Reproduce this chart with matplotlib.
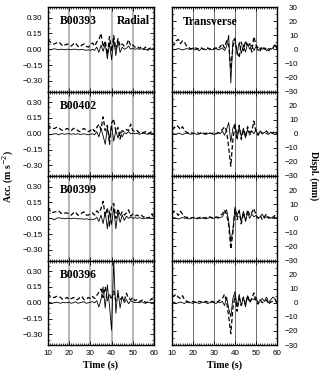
import numpy as np
import matplotlib
matplotlib.use('Agg')
import matplotlib.pyplot as plt
from matplotlib.ticker import MultipleLocator

# time axis (s)
t = list(range(10, 61))

stations = ['B00393', 'B00402', 'B00399', 'B00396']

# radial component (m s^-2)
rad_solid = [
    [0.0,-0.005,0.0,0.005,0.0,-0.005,0.0,0.0,-0.005,0.0, 0.0,-0.005,0.0,0.0,-0.005,-0.005,0.0,-0.005,-0.01,-0.005,
     -0.01,0.0,-0.01,0.02,-0.03,0.04,-0.02,0.05,-0.09,0.06, -0.1,0.09,-0.06,0.08,-0.03,0.02,0.0,0.01,0.03,0.0,
     0.01,0.0,0.005,0.0,0.005,0.0,-0.005,0.0,0.005,0.0, 0.0],
    [0.0,-0.01,-0.005,0.0,0.0,-0.01,0.0,0.0,-0.005,0.0, 0.0,-0.005,0.0,-0.005,0.0,-0.005,-0.005,0.0,-0.005,-0.01,
     -0.005,0.0,-0.01,0.02,-0.03,0.05,-0.02,-0.1,0.06,-0.05, 0.08,-0.07,0.03,-0.04,0.02,-0.03,0.01,0.0,0.02,0.0,
     0.005,0.0,0.005,-0.005,0.0,0.005,0.0,-0.005,0.0,0.005, 0.0],
    [0.0,0.0,-0.005,-0.015,0.0,0.005,0.0,0.0,-0.005,0.0, 0.0,-0.005,0.0,0.0,-0.005,-0.005,-0.005,-0.01,-0.005,-0.01,
     -0.01,-0.01,-0.01,0.01,-0.03,0.03,-0.05,0.06,-0.1,0.07, -0.06,0.1,-0.1,0.06,-0.04,0.03,-0.02,0.02,0.0,0.01,
     0.0,0.005,0.0,0.005,0.0,-0.005,0.0,0.005,0.0,0.0, 0.0],
    [0.0,0.005,-0.005,0.0,0.005,0.0,-0.005,0.005,0.0,0.0, 0.005,-0.005,0.0,0.01,-0.005,0.0,0.005,0.01,-0.005,0.0,
     0.005,0.01,0.0,0.02,-0.04,0.03,0.15,-0.05,0.17,-0.03, -0.26,0.4,-0.1,0.12,-0.05,0.06,0.0,0.03,-0.01,0.02,
     0.01,0.0,0.005,0.0,0.01,0.0,-0.005,0.005,0.0,0.005, 0.0],
]
rad_dash = [
    [0.09,0.07,0.05,0.05,0.06,0.07,0.05,0.03,0.04,0.05, 0.04,0.03,0.05,0.06,0.03,0.02,0.04,0.05,0.03,0.02,
     0.04,0.06,0.03,0.07,0.09,0.15,0.02,0.08,-0.05,0.12, -0.02,0.13,0.0,0.10,0.03,0.05,0.03,0.04,0.09,0.03,
     0.04,0.02,0.03,0.01,0.02,0.0,0.02,-0.01,0.01,0.02, 0.0],
    [0.09,0.06,0.05,0.05,0.06,0.06,0.04,0.03,0.04,0.05, 0.04,0.03,0.05,0.05,0.03,0.02,0.04,0.05,0.03,0.02,
     0.03,0.05,0.02,0.06,0.09,0.04,0.16,0.03,0.08,-0.1, 0.1,0.14,0.02,0.06,-0.05,0.03,0.02,0.04,0.03,0.09,
     0.03,0.02,0.03,0.01,0.02,0.01,0.02,0.0,0.01,0.02, 0.0],
    [0.1,0.07,0.05,0.06,0.06,0.07,0.05,0.04,0.05,0.05, 0.04,0.03,0.05,0.06,0.03,0.03,0.05,0.06,0.03,0.03,
     0.04,0.05,0.03,0.07,0.05,0.09,0.16,0.02,0.1,-0.08, 0.12,0.14,0.0,0.09,0.02,0.06,0.03,0.05,0.08,0.02,
     0.04,0.02,0.03,0.02,0.03,0.01,0.02,0.0,0.01,0.04, 0.01],
    [0.09,0.06,0.05,0.05,0.06,0.06,0.05,0.03,0.04,0.05, 0.03,0.04,0.05,0.03,0.03,0.05,0.06,0.03,0.03,0.05,
     0.04,0.06,0.04,0.07,0.1,0.13,0.05,0.15,0.02,0.08, 0.03,0.11,0.02,0.07,0.03,0.05,0.02,0.09,0.04,0.03,
     0.05,0.02,0.03,0.01,0.02,0.03,0.0,0.01,0.02,0.04, 0.0],
]

# transverse component (mm)
tra_solid = [
    [0,-0.5,0,0.5,0,-0.5,0,0.5,0,0, 1,-0.5,0,-1,0.5,0,-0.5,0.5,0,-0.5,
     0,0.5,-0.5,0,1,-1,2,10,-24,6, 8,-4,5,-3,3,-2,4,0,3,-1,
     2,-1,1,0,1,-1,0.5,0,1,3, 0],
    [0,0,-0.5,0.5,0,-0.5,0,0.5,0,-0.5, 0.5,0,-0.5,0,0.5,0,-0.5,0,0.5,0,
     -0.5,0,1,0,2,-1,3,8,-6,4, 7,-4,5,-2,4,-3,3,-1,2,0,
     3,-1,2,0,1,0,-0.5,1,0,1, 0],
    [0,0.5,0,-0.5,0,0.5,0,0,-0.5,0, 0.5,0,-0.5,0,0,0.5,-0.5,0,0.5,0,
     0,0.5,0,0.5,1,4,6,-2,-17,-8, 8,2,6,-3,5,-2,4,0,3,1,
     2,0,1,3,0,1,0.5,0,1,0.5, 0],
    [0,0.5,-0.5,0,0.5,0,-0.5,0.5,0,0, -0.5,0.5,0,-0.5,0,0.5,0,-0.5,0,0.5,
     0,-0.5,0.5,0,1,-2,4,-4,-10,3, 8,-3,6,-2,4,-3,5,1,3,2,
     4,0,2,3,1,4,0,2,4,3, 0],
]
tra_dash = [
    [4,3,6,7,4,6,5,2,1,0.5, 0,1,0.5,0,1,0,0.5,1,0,1,
     0.5,1,0,2,4,1,6,3,-14,2, 7,-2,-6,5,-1,6,2,4,-2,9,
     3,1,-1,2,0,1,-1,0.5,0,4, 1],
    [3,4,6,5,3,5,2,1,0.5,1, 0,0.5,1,0,1,0.5,0,1,0.5,0,
     1,0,0.5,2,3,5,2,-10,-23,-4, 6,-3,6,-4,3,-2,5,1,2,9,
     1,-1,2,0,1,2,0,1,0.5,2, 0],
    [3,5,4,2,5,3,1,0.5,1,0, 0.5,1,0,0.5,1,0,0.5,0,1,0.5,
     0,1,0.5,2,3,6,3,-5,-22,-10, 6,-1,5,-4,4,-2,6,2,4,7,
     2,0,2,-1,1,3,0,1,0,2, 0],
    [4,5,6,4,3,5,2,1,0.5,0, 1,0.5,0,1,0.5,0,1,0.5,0,1,
     0.5,0,1,2,3,6,1,-10,-22,-4, 5,-6,3,-2,4,-1,5,0,3,7,
     1,-1,2,0,1,2,-1,0.5,1,2, 0],
]

acc_ticks = [-0.30, -0.15, 0.00, 0.15, 0.30]
dsp_ticks = [-30, -20, -10, 0, 10, 20, 30]

serif = 'Liberation Serif'
plt.rcParams['font.family'] = 'Liberation Sans'
plt.rcParams['font.size'] = 5.8

fig = plt.figure(figsize=(3.2, 3.77), dpi=100)
W, H = 320.0, 377.0
top, ph = 7.0, 84.5

for i in range(4):
    bottom = 1 - (top + (i + 1) * ph) / H
    axL = fig.add_axes([48 / W, bottom, 106 / W, ph / H])
    axR = fig.add_axes([172 / W, bottom, 105 / W, ph / H])

    # radial
    axL.plot(t, rad_solid[i], color='black', lw=0.6)
    axL.plot(t, rad_dash[i], color='black', lw=0.9, dashes=(3.5, 2))
    axL.set_ylim(-0.4, 0.4)
    axL.set_yticks(acc_ticks)
    axL.set_yticklabels(['%.2f' % v if v >= 0 else '\u2212%.2f' % -v for v in acc_ticks])
    axL.yaxis.set_minor_locator(MultipleLocator(0.05))
    axL.xaxis.grid(True, color='#b8b8b8', lw=1.5)

    # transverse
    axR.plot(t, tra_solid[i], color='black', lw=0.6)
    axR.plot(t, tra_dash[i], color='black', lw=0.9, dashes=(3.5, 2))
    axR.set_ylim(-30, 30)
    axR.set_yticks(dsp_ticks)
    # the top label is dropped below the first row, the -30 of the panel above stands there
    rlabels = ['%d' % v if v >= 0 else '\u2212%d' % -v for v in dsp_ticks]
    if i > 0:
        rlabels[-1] = ''
    axR.set_yticklabels(rlabels)
    axR.yaxis.set_minor_locator(MultipleLocator(5))
    axR.yaxis.tick_right()
    axR.xaxis.grid(True, color='#555555', lw=0.6)
    axR.tick_params(axis='y', which='both', left=True, right=True, pad=15)
    for lab in axR.get_yticklabels():
        lab.set_horizontalalignment('right')

    for ax in (axL, axR):
        ax.set_axisbelow(True)
        ax.set_xlim(10, 60)
        ax.set_xticks([10, 20, 30, 40, 50, 60])
        ax.xaxis.set_minor_locator(MultipleLocator(1))
        ax.tick_params(which='both', direction='in', top=True, bottom=True, left=True, right=True)
        ax.tick_params(which='major', length=3, width=0.6)
        ax.tick_params(which='minor', length=1.5, width=0.5)
        for s in ax.spines.values():
            s.set_linewidth(1.0)
        if i < 3:
            ax.set_xticklabels([])
        else:
            ax.set_xlabel('Time (s)', fontfamily=serif, fontweight='bold', fontsize=7.2, labelpad=2.5)
    axL.tick_params(axis='y', pad=4)

    axL.text(0.11, 0.83, stations[i], transform=axL.transAxes, fontfamily=serif,
             fontweight='bold', fontsize=8.4, ha='left', va='center')
    if i == 0:
        axL.text(0.96, 0.83, 'Radial', transform=axL.transAxes, fontfamily=serif,
                 fontweight='bold', fontsize=8.4, ha='right', va='center')
        axR.text(0.105, 0.82, 'Transverse', transform=axR.transAxes, fontfamily=serif,
                 fontweight='bold', fontsize=8.4, ha='left', va='center')

fig.text(8 / W, 1 - 176 / H, 'Acc. (m s$^{-2}$)', rotation=90, ha='center', va='center',
         fontfamily=serif, fontweight='bold', fontsize=7)
fig.text(314 / W, 1 - 176 / H, 'Displ. (mm)', rotation=-90, ha='center', va='center',
         fontfamily=serif, fontweight='bold', fontsize=7)

fig.savefig('out.png', dpi=100)
